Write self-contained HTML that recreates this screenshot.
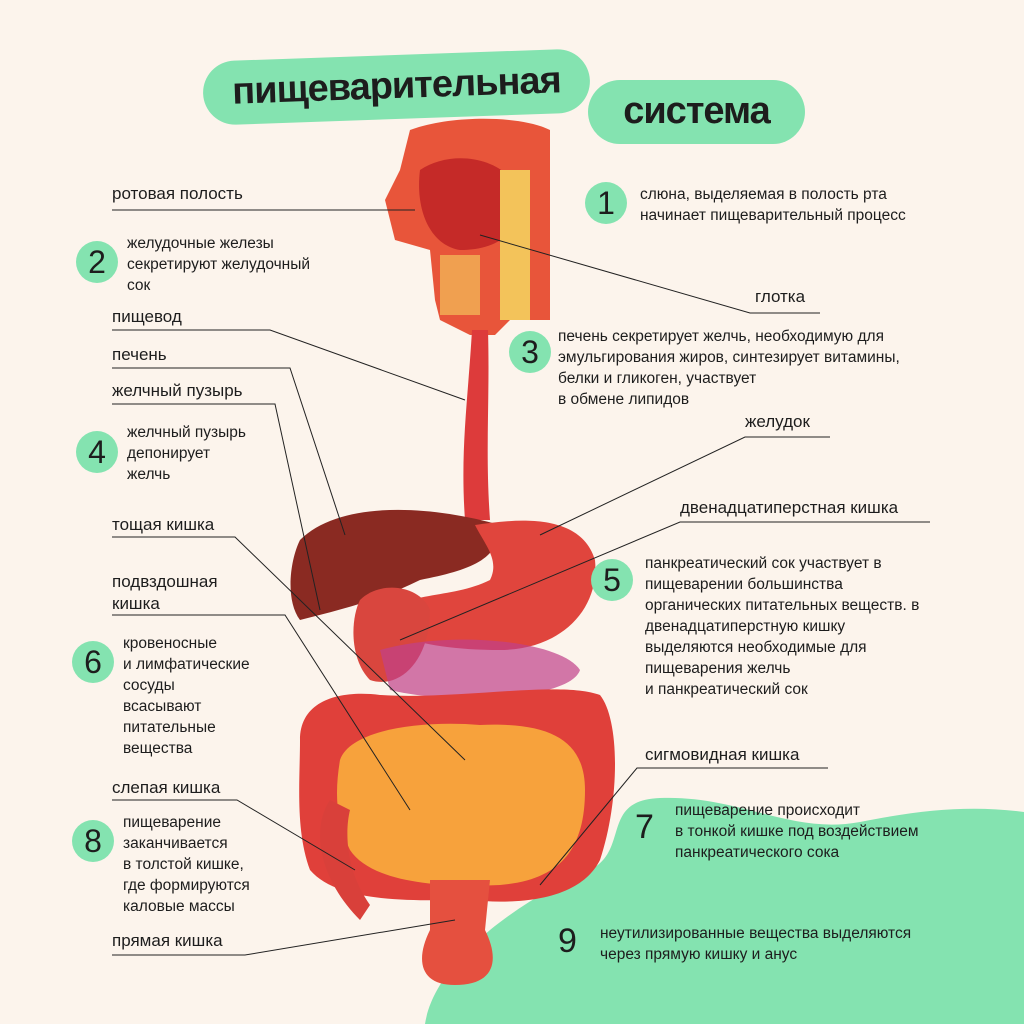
<!DOCTYPE html>
<html><head><meta charset="utf-8"><style>
html,body{margin:0;padding:0}
body{width:1024px;height:1024px;background:#fcf4ec;position:relative;overflow:hidden;font-family:"Liberation Sans","DejaVu Sans",sans-serif;color:#1d1d1d}
.t{position:absolute;font-size:15.5px;line-height:21px;white-space:nowrap}
.l{position:absolute;font-size:17px;white-space:nowrap}
.n{position:absolute;width:42px;height:42px;border-radius:50%;background:#84e3b0;font-size:32px;line-height:42px;text-align:center;color:#1d1d1d}
.pill{position:absolute;background:#84e3b0;border-radius:34px;font-size:38px;font-weight:bold;letter-spacing:-1px;text-align:center;color:#1d1d1d}
</style></head><body>
<svg width="1024" height="1024" style="position:absolute;left:0;top:0">
<path d="M425 1024 C435 960 520 900 590 870 C630 850 600 800 660 798 C740 795 790 835 860 822 C920 810 970 805 1024 812 L1024 1024 Z" fill="#84e3b0"/>
<path d="M410 130 C450 115 520 115 550 130 L550 320 L510 320 L495 335 L470 335 L440 320 L435 300 L430 250 L395 240 L385 200 L400 170 Z" fill="#e8553a"/>
<path d="M420 170 C450 150 500 155 520 190 C525 230 500 250 460 250 C430 245 415 210 420 170Z" fill="#c52a28"/>
<rect x="500" y="170" width="30" height="150" fill="#f3c35a"/>
<rect x="440" y="255" width="40" height="60" fill="#f0a050"/>
<path d="M472 330 C468 400 460 450 465 520 L490 520 C485 450 490 400 488 330Z" fill="#dd3b3b"/>
<path d="M300 540 C340 500 430 505 500 525 C500 560 470 570 420 580 C380 600 340 610 300 620 C285 600 290 560 300 540Z" fill="#8a2a22"/>
<path d="M475 525 C510 520 580 510 595 560 C600 610 560 650 500 650 C440 650 390 640 380 620 C400 590 450 600 490 580 C500 560 485 545 475 525Z" fill="#e0453d"/>
<path d="M360 600 C380 580 420 585 430 610 C430 660 400 690 370 680 C350 660 350 620 360 600Z" fill="#d9463e"/>
<path d="M380 650 C450 630 560 640 580 670 C570 700 450 705 390 690Z" fill="#c0408a" opacity=".7"/>
<path d="M300 740 C300 700 340 690 380 695 C460 700 560 680 600 695 C620 720 620 800 600 860 C580 900 520 905 470 900 C420 900 340 905 310 870 C295 830 300 780 300 740Z" fill="#e0403a"/>
<path d="M340 760 C350 730 420 720 480 725 C550 722 585 740 585 790 C585 850 560 880 500 885 C430 888 370 880 350 850 C335 820 335 790 340 760Z" fill="#f7a23c"/>
<path d="M330 800 C310 830 320 880 360 920 L370 905 C345 870 345 830 350 810Z" fill="#d9403a"/>
<path d="M430 880 L490 880 L485 930 C500 960 495 985 455 985 C420 985 415 960 430 930Z" fill="#e5503f"/>
<g stroke="#222" stroke-width="1" fill="none">
<line x1="112" y1="210" x2="415" y2="210"/>
<polyline points="820,313 750,313 480,235"/>
<polyline points="112,330 270,330 465,400"/>
<polyline points="112,368 290,368 345,535"/>
<polyline points="112,404 275,404 320,610"/>
<polyline points="830,437 745,437 540,535"/>
<polyline points="930,522 680,522 400,640"/>
<polyline points="112,537 235,537 465,760"/>
<polyline points="112,615 285,615 410,810"/>
<polyline points="828,768 637,768 540,885"/>
<polyline points="112,800 237,800 355,870"/>
<polyline points="112,955 245,955 455,920"/>
</g>
</svg>
<div class="pill" style="left:203px;top:55px;width:387px;height:64px;line-height:62px;transform:rotate(-2deg)">пищеварительная</div>
<div class="pill" style="left:588px;top:80px;width:217px;height:64px;line-height:62px">система</div>

<div class="l" style="left:112px;top:184px">ротовая полость</div>
<div class="l" style="left:112px;top:307px">пищевод</div>
<div class="l" style="left:112px;top:345px">печень</div>
<div class="l" style="left:112px;top:381px">желчный пузырь</div>
<div class="l" style="left:112px;top:515px">тощая кишка</div>
<div class="l" style="left:112px;top:571px;line-height:22px">подвздошная<br>кишка</div>
<div class="l" style="left:112px;top:778px">слепая кишка</div>
<div class="l" style="left:112px;top:931px">прямая кишка</div>
<div class="l" style="left:755px;top:287px">глотка</div>
<div class="l" style="left:745px;top:412px">желудок</div>
<div class="l" style="left:680px;top:498px">двенадцатиперстная кишка</div>
<div class="l" style="left:645px;top:745px">сигмовидная кишка</div>

<div class="n" style="left:585px;top:182px">1</div>
<div class="t" style="left:640px;top:184px">слюна, выделяемая в полость рта<br>начинает пищеварительный процесс</div>
<div class="n" style="left:76px;top:241px">2</div>
<div class="t" style="left:127px;top:233px">желудочные железы<br>секретируют желудочный<br>сок</div>
<div class="n" style="left:509px;top:331px">3</div>
<div class="t" style="left:558px;top:326px">печень секретирует желчь, необходимую для<br>эмульгирования жиров, синтезирует витамины,<br>белки и гликоген, участвует<br>в обмене липидов</div>
<div class="n" style="left:76px;top:431px">4</div>
<div class="t" style="left:127px;top:422px">желчный пузырь<br>депонирует<br>желчь</div>
<div class="n" style="left:591px;top:559px">5</div>
<div class="t" style="left:645px;top:553px">панкреатический сок участвует в<br>пищеварении большинства<br>органических питательных веществ. в<br>двенадцатиперстную кишку<br>выделяются необходимые для<br>пищеварения желчь<br>и панкреатический сок</div>
<div class="n" style="left:72px;top:641px">6</div>
<div class="t" style="left:123px;top:633px">кровеносные<br>и лимфатические<br>сосуды<br>всасывают<br>питательные<br>вещества</div>
<div class="l" style="left:635px;top:808px;font-size:34px">7</div>
<div class="t" style="left:675px;top:800px">пищеварение происходит<br>в тонкой кишке под воздействием<br>панкреатического сока</div>
<div class="n" style="left:72px;top:820px">8</div>
<div class="t" style="left:123px;top:812px">пищеварение<br>заканчивается<br>в толстой кишке,<br>где формируются<br>каловые массы</div>
<div class="l" style="left:558px;top:922px;font-size:34px">9</div>
<div class="t" style="left:600px;top:923px">неутилизированные вещества выделяются<br>через прямую кишку и анус</div>
</body></html>
